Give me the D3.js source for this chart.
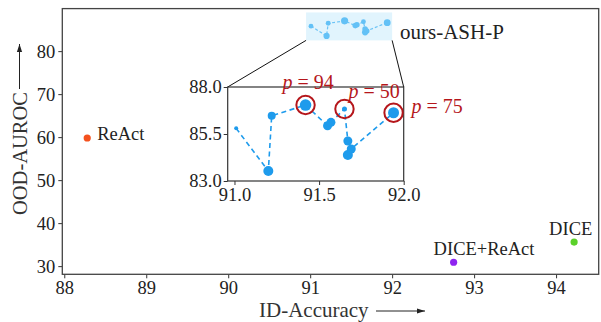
<!DOCTYPE html>
<html>
	<head>
		<meta charset="utf-8">
		<title>ID-Accuracy vs OOD-AUROC</title>
		<style>
			body,html
			{
				margin:0px;
				background:#fff;
			}
			svg text
			{
				font-family:"Liberation Serif", "Times New Roman", serif;
			}
		</style>
		<script src="https://cdn.jsdelivr.net/npm/d3@7/dist/d3.min.js"></script>
	</head>
	<body>
	<svg id="chart" width="601" height="322"></svg>
	<script>

		// baselines
		var baseNames = ["ReAct", "DICE+ReAct", "DICE"];
		var baseAcc = [88.28, 92.75, 94.22];
		var baseAuroc = [59.8, 30.9, 35.6];
		var baseColors = ["#f4511e", "#8e24f0", "#5bd12a"];

		// ours-ASH-P sweep (in drawing order)
		var oursAcc = [91.01, 91.20, 91.22, 91.42, 91.55, 91.57, 91.65, 91.67, 91.67, 91.69, 91.94];
		var oursAuroc = [85.80, 83.53, 86.47, 87.04, 85.94, 86.12, 86.83, 85.13, 84.38, 84.70, 86.63];

		// annotated points: index into the sweep and its p
		var pIndex = [3, 6, 10];
		var pValue = [94, 50, 75];

		var xTicks = [88, 89, 90, 91, 92, 93, 94];
		var yTicks = [30, 40, 50, 60, 70, 80];
		var insetXTicks = [91.0, 91.5, 92.0];
		var insetYTicks = [83.0, 85.5, 88.0];

		// marker radius per sweep point (style only)
		var markerR = [2, 5, 4, 5.8, 4.5, 4.5, 2.5, 4.5, 5, 4.5, 5.5];

		var svg = d3.select("#chart");
		var blue = "#1e9bec";
		var red = "#b5161b";

		var x = d3.scaleLinear().domain([87.976, 94.52]).range([62.3, 598.7]);
		var y = d3.scaleLinear().domain([28.1, 89.8]).range([274.3, 9]);

		// mini copy of the sweep inside the main axes, with its light box
		var boxX = [90.95, 92.0], boxY = [82.5, 89.0];
		svg.append("rect")
			.attr("x", x(boxX[0])).attr("y", y(boxY[1]))
			.attr("width", x(boxX[1]) - x(boxX[0]))
			.attr("height", y(boxY[0]) - y(boxY[1]))
			.style("fill", "#e1f4fd");

		var ours = oursAcc.map(function(a, i){ return {acc:a, auroc:oursAuroc[i], r:markerR[i]}; });

		var miniLine = d3.line().x(function(d){ return x(d.acc); }).y(function(d){ return y(d.auroc); });
		svg.append("path").datum(ours)
			.attr("d", miniLine)
			.style("fill", "none").style("stroke", "#6cc4f6")
			.style("stroke-width", 1.2).style("stroke-dasharray", "3,2");
		svg.selectAll("circle.mini").data(ours).enter()
			.append("circle").attr("class", "mini")
			.attr("cx", function(d){ return x(d.acc); })
			.attr("cy", function(d){ return y(d.auroc); })
			.attr("r", function(d){ return Math.max(2.4, d.r * 0.62); })
			.style("fill", "#63c1f6");

		svg.append("text").attr("x", 400).attr("y", 39)
			.style("font-size", "21px").style("fill", "#222")
			.text("ours-ASH-P");

		// baseline points
		svg.selectAll("circle.base").data(baseNames).enter()
			.append("circle").attr("class", "base")
			.attr("cx", function(d, i){ return x(baseAcc[i]); })
			.attr("cy", function(d, i){ return y(baseAuroc[i]); })
			.attr("r", 3.6)
			.style("fill", function(d, i){ return baseColors[i]; });

		var labelPos = [[10, 2], [-20, -7], [-25, -7]];
		svg.selectAll("text.base").data(baseNames).enter()
			.append("text").attr("class", "base")
			.attr("x", function(d, i){ return x(baseAcc[i]) + labelPos[i][0]; })
			.attr("y", function(d, i){ return y(baseAuroc[i]) + labelPos[i][1]; })
			.style("font-size", "18.5px").style("fill", "#222")
			.text(function(d){ return d; });

		// main axes
		var gx = svg.append("g").attr("transform", "translate(0,274.3)")
			.call(d3.axisBottom(x).tickValues(xTicks).tickSize(4).tickPadding(3).tickFormat(d3.format("d")));
		var gy = svg.append("g").attr("transform", "translate(62.3,0)")
			.call(d3.axisLeft(y).tickValues(yTicks).tickSize(4).tickPadding(3).tickFormat(d3.format("d")));
		[gx, gy].forEach(function(g){
			g.select(".domain").remove();
			g.selectAll("line").style("stroke", "#333").style("stroke-width", 1);
			g.selectAll("text").style("font-size", "18.5px").style("fill", "#222")
				.style("font-family", "Liberation Serif");
		});
		svg.append("rect").attr("x", 62.3).attr("y", 8.6)
			.attr("width", 598.7 - 62.3).attr("height", 274.3 - 8.6)
			.style("fill", "none").style("stroke", "#444").style("stroke-width", 1.3);

		// inset
		var ix = d3.scaleLinear().domain([90.96, 92.0]).range([227.7, 403.7]);
		var iy = d3.scaleLinear().domain([83, 88]).range([181, 87]);

		svg.append("line")
			.attr("x1", x(boxX[0])).attr("y1", y(boxY[0]))
			.attr("x2", 227.7).attr("y2", 87)
			.style("stroke", "#111").style("stroke-width", 1);
		svg.append("line")
			.attr("x1", x(boxX[1])).attr("y1", y(boxY[0]))
			.attr("x2", 403.7).attr("y2", 87)
			.style("stroke", "#111").style("stroke-width", 1);

		svg.append("rect").attr("x", 227.7).attr("y", 87)
			.attr("width", 403.7 - 227.7).attr("height", 181 - 87)
			.style("fill", "#fff").style("stroke", "#333").style("stroke-width", 1.2);

		var gix = svg.append("g").attr("transform", "translate(0,181)")
			.call(d3.axisBottom(ix).tickValues(insetXTicks).tickSize(4).tickPadding(3).tickFormat(d3.format(".1f")));
		var giy = svg.append("g").attr("transform", "translate(227.7,0)")
			.call(d3.axisLeft(iy).tickValues(insetYTicks).tickSize(4).tickPadding(2).tickFormat(d3.format(".1f")));
		[gix, giy].forEach(function(g){
			g.select(".domain").remove();
			g.selectAll("line").style("stroke", "#333").style("stroke-width", 1);
			g.selectAll("text").style("font-size", "18.5px").style("fill", "#222")
				.style("font-family", "Liberation Serif");
		});

		var insetLine = d3.line().x(function(d){ return ix(d.acc); }).y(function(d){ return iy(d.auroc); });
		svg.append("path").datum(ours)
			.attr("d", insetLine)
			.style("fill", "none").style("stroke", blue)
			.style("stroke-width", 1.6).style("stroke-dasharray", "5,3.5");
		svg.selectAll("circle.ours").data(ours).enter()
			.append("circle").attr("class", "ours")
			.attr("cx", function(d){ return ix(d.acc); })
			.attr("cy", function(d){ return iy(d.auroc); })
			.attr("r", function(d){ return d.r; })
			.style("fill", blue);

		// p annotations
		var pOffset = [[-23, -16], [4, -11], [18, 0]];
		pIndex.forEach(function(k, i){
			var cx = ix(oursAcc[k]), cy = iy(oursAuroc[k]);
			svg.append("circle").attr("cx", cx).attr("cy", cy).attr("r", 9.2)
				.style("fill", "none").style("stroke", red).style("stroke-width", 2);
			var t = svg.append("text")
				.attr("x", cx + pOffset[i][0]).attr("y", cy + pOffset[i][1])
				.style("font-size", "20px").style("fill", red);
			t.append("tspan").style("font-style", "italic").text("p");
			t.append("tspan").text(" = " + pValue[i]);
		});

		// axis labels with arrows
		var arrowHead = function(g, x1, y1, x2, y2){
			g.append("line").attr("x1", x1).attr("y1", y1).attr("x2", x2).attr("y2", y2)
				.style("stroke", "#222").style("stroke-width", 1);
			var ang = Math.atan2(y2 - y1, x2 - x1), L = 8, W = 2.6;
			var bx = x2 - L * Math.cos(ang), by = y2 - L * Math.sin(ang);
			g.append("path")
				.attr("d", "M" + x2 + "," + y2 +
					"L" + (bx - W * Math.sin(ang)) + "," + (by + W * Math.cos(ang)) +
					"L" + (bx + W * Math.sin(ang)) + "," + (by - W * Math.cos(ang)) + "Z")
				.style("fill", "#222");
		};

		svg.append("text").attr("x", 259).attr("y", 316.5)
			.style("font-size", "21px").style("fill", "#333")
			.text("ID-Accuracy");
		arrowHead(svg, 376, 311, 425, 311);

		svg.append("text")
			.attr("transform", "translate(26.5,215) rotate(-90)")
			.style("font-size", "20.5px").style("fill", "#333")
			.text("OOD-AUROC");
		arrowHead(svg, 19.5, 89, 19.5, 44);

	</script>
	</body>
</html>
